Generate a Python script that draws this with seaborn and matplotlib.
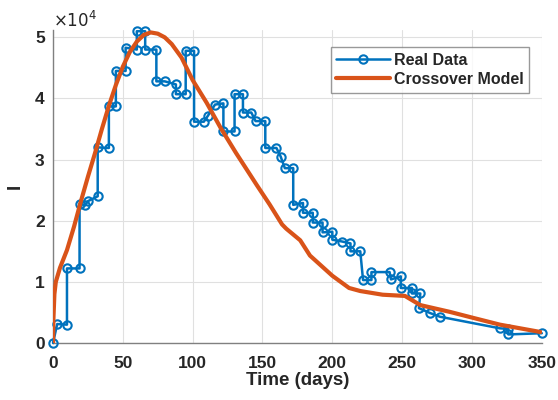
import numpy as np
import seaborn as sns
import matplotlib.pyplot as plt
from matplotlib.ticker import FuncFormatter

# reported data (days, active cases)
real_days = [0, 3, 10, 10, 19, 19, 23, 25, 32, 32, 40, 40, 45, 45, 52, 52, 60,
             60, 66, 66, 74, 74, 80, 88, 88, 95, 95, 101, 101, 108, 111, 116, 122,
             122, 130, 130, 136, 136, 142, 145, 152, 152, 160, 163, 166, 172,
             172, 179, 179, 186, 186, 193, 193, 200, 200, 207, 213, 213, 220,
             222, 228, 228, 241, 242, 249, 249, 257, 257, 263, 262, 270, 277,
             320, 326, 326, 350]
real_vals = [0, 3100, 3000, 12200, 12200, 22800, 22500, 23200, 24000, 32000, 31900,
             38700, 38700, 44500, 44500, 48300, 48000, 51000, 51000, 48000, 48000,
             42800, 42800, 42300, 40700, 40700, 47800, 47800, 36200, 36200, 37200,
             39000, 39200, 34600, 34600, 40700, 40700, 37700, 37700, 36300, 36300,
             31900, 31900, 30500, 28600, 28600, 22600, 22900, 21300, 21300, 19700,
             19700, 18100, 18200, 16900, 16600, 16300, 15000, 15000, 10300, 10300,
             11600, 11600, 10400, 10900, 9000, 9000, 8100, 8100, 5700, 4900, 4300,
             2400, 2300, 1400, 1600]

# crossover model curve
model_days = [0, 0.3, 1, 2, 5, 10, 15, 20, 25, 30, 35, 40, 45, 50, 55, 60, 65,
              70, 75, 80, 85, 92, 100, 110, 120, 131, 146, 155, 164, 167, 177,
              184, 200, 212, 220, 236, 252, 263, 284, 301, 320, 349]
model_vals = [0, 4000, 8000, 10000, 12300, 15200, 19000, 23200, 27200, 31000,
              35000, 38800, 42200, 45200, 47600, 49300, 50400, 50800, 50600, 50000,
              48900, 46700, 43000, 39300, 35200, 31100, 25800, 22700, 19400, 18700,
              16800, 14300, 11000, 9000, 8500, 7900, 7700, 6200, 5100, 4100, 3000,
              1800]

x_ticks = [0, 50, 100, 150, 200, 250, 300, 350]
y_ticks = [0, 10000, 20000, 30000, 40000, 50000]

sns.set_theme(style="whitegrid")
plt.rcParams['font.family'] = ['Liberation Sans', 'DejaVu Sans']

fig = plt.figure(figsize=(5.58, 4.0), dpi=100)
ax = fig.add_axes([0.095, 0.1425, 0.876, 0.7825])

sns.lineplot(x=real_days, y=real_vals, ax=ax, estimator=None, sort=False,
             color="#0072BD", linewidth=1.8, marker="o", markersize=6,
             markerfacecolor="none", markeredgecolor="#0072BD",
             markeredgewidth=1.5, label="Real Data", clip_on=False, zorder=3)
sns.lineplot(x=model_days, y=model_vals, ax=ax, estimator=None, sort=False,
             color="#D95319", linewidth=3, label="Crossover Model", zorder=4)

ax.set_xlim(0, 350)
ax.set_ylim(0, 51200)
ax.set_xticks(x_ticks)
ax.set_yticks(y_ticks)
ax.yaxis.set_major_formatter(FuncFormatter(lambda v, p: f"{int(round(v / 1e4))}"))
ax.tick_params(axis="both", labelsize=12.5, direction="in", length=3,
               color="#404040")
ax.tick_params(axis="x", pad=9)
ax.tick_params(axis="y", pad=6)
for lab in ax.get_xticklabels() + ax.get_yticklabels():
    lab.set_fontweight("bold")
    lab.set_color("#262626")

ax.grid(True, color="#e0e0e0", linewidth=0.8)
ax.set_facecolor("white")
for side in ["top", "right"]:
    ax.spines[side].set_visible(False)
for side in ["left", "bottom"]:
    ax.spines[side].set_color("#808080")
    ax.spines[side].set_linewidth(1.0)

ax.set_xlabel("Time (days)", fontsize=13.5, fontweight="bold", color="#262626",
              labelpad=1)
ax.set_ylabel("I", fontsize=13.5, fontweight="bold", color="#262626", labelpad=8)
ax.text(0.0, 1.0, r"$\times10^4$", transform=ax.transAxes, fontsize=12,
        color="#262626", ha="left", va="bottom")

leg = ax.legend(loc="upper right", bbox_to_anchor=(0.99, 0.97), fontsize=11.5,
                frameon=True, fancybox=False, handlelength=3.4,
                borderpad=0.35, labelspacing=0.25, handletextpad=0.2)
leg.get_frame().set_edgecolor("#808080")
leg.get_frame().set_linewidth(1.0)
for t in leg.get_texts():
    t.set_fontweight("bold")

fig.savefig("out.png", dpi=100)
